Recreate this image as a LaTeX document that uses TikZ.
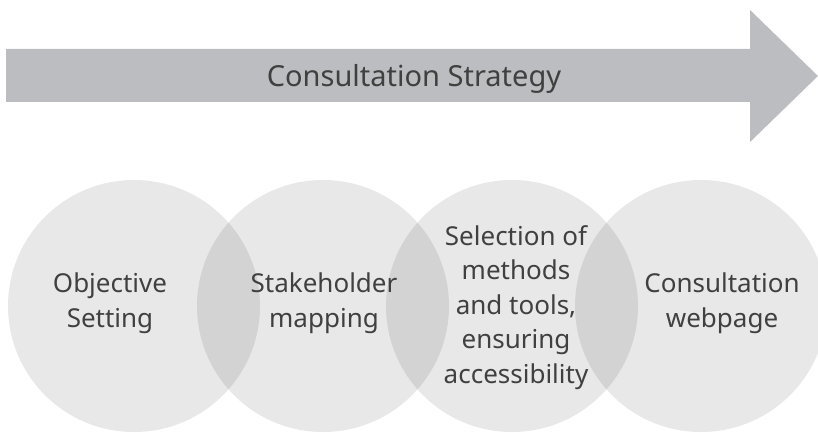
\documentclass[tikz,border=0pt]{standalone}
\usepackage{fontspec}
\setmainfont{Noto Sans}
\definecolor{bannergray}{RGB}{188,189,192}
\definecolor{textgray}{RGB}{64,64,64}
\tikzset{
  banner/.style={fill=bannergray, draw=none},
  stage/.style={circle, minimum size=252pt, inner sep=0pt, fill=black, fill opacity=0.09, draw=none},
  stagetext/.style={text=textgray, text opacity=1, align=center, anchor=base,
    font=\fontsize{26}{34.5}\selectfont},
}
\begin{document}
\begin{tikzpicture}[x=1pt,y=-1pt]
  \useasboundingbox (0,0) rectangle (818,433);
  \begin{scope}
    \clip (0,0) rectangle (818,433);
    % strategy banner arrow
    \fill[banner] (6,49) -- (750,49) -- (750,10) -- (818,76) -- (750,142) -- (750,102) -- (6,102) -- cycle;
    \node[text=textgray, anchor=base, font=\fontsize{29}{32}\selectfont] (title) at (414,87) {Consultation Strategy};
    % overlapping stages
    \node[stage] (c1) at (134,306) {};
    \node[stage] (c2) at (323,306) {};
    \node[stage] (c3) at (512,306) {};
    \node[stage] (c4) at (701,306) {};
  \end{scope}
  % labels: anchor=base sits on the last line's baseline
  \node[stagetext] (t1) at (110,327) {Objective\\Setting};
  \node[stagetext] (t2) at (324,327) {Stakeholder\\mapping};
  \node[stagetext] (t3) at (516,383) {Selection of\\methods\\and tools,\\ensuring\\accessibility};
  \node[stagetext] (t4) at (722,327) {Consultation\\webpage};
\end{tikzpicture}
\end{document}
